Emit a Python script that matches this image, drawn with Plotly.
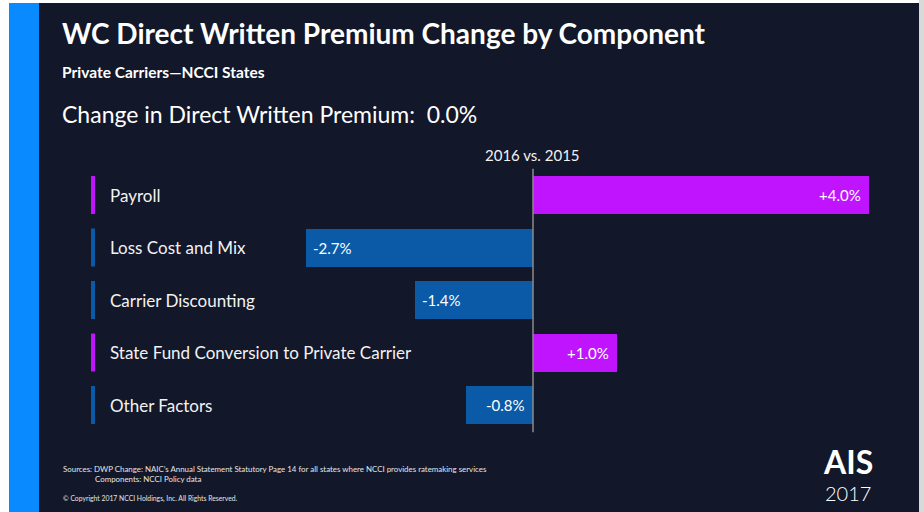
import plotly.graph_objects as go

# --- data -------------------------------------------------------------
components = [
    "Payroll",
    "Loss Cost and Mix",
    "Carrier Discounting",
    "State Fund Conversion to Private Carrier",
    "Other Factors",
]
changes = [4.0, -2.7, -1.4, 1.0, -0.8]
value_labels = ["+4.0%", "-2.7%", "-1.4%", "+1.0%", "-0.8%"]
total_change = "0.0%"
period_label = "2016 vs. 2015"

# --- styling ------------------------------------------------------------
W, H = 924, 512
BG = "#121729"
STRIP = "#0a8aff"
POS = "#c013fe"
NEG = "#0a5aa8"
FONT = "Lato"

PX_PER_UNIT = 84.0      # horizontal scale: pixels per percentage point
ZERO_PX = 533.0         # pixel position of the zero line
ROW0_PX = 195.0         # centre of first row
ROW_PITCH = 52.5        # pixels between rows
BAR_PX = 38.0           # bar thickness in pixels

x_range = [-ZERO_PX / PX_PER_UNIT, (W - ZERO_PX) / PX_PER_UNIT]
y_range = [(H - ROW0_PX) / ROW_PITCH, -ROW0_PX / ROW_PITCH]
bar_w = BAR_PX / ROW_PITCH

def px(xp):
    return xp / W

def py(yp):
    return 1 - yp / H

colors = [POS if v >= 0 else NEG for v in changes]

fig = go.Figure()
fig.add_trace(go.Bar(
    y=components, x=changes, orientation="h",
    marker=dict(color=colors, line=dict(width=0)),
    width=bar_w, hoverinfo="skip", showlegend=False,
))

shapes = [
    # slide background pieces
    dict(type="rect", xref="paper", yref="paper", x0=px(39), x1=px(919),
         y0=py(512), y1=py(3), fillcolor=BG, line=dict(width=0), layer="below"),
    dict(type="rect", xref="paper", yref="paper", x0=px(9), x1=px(39),
         y0=py(512), y1=py(3), fillcolor=STRIP, line=dict(width=0), layer="below"),
    dict(type="rect", xref="paper", yref="paper", x0=px(919), x1=px(924),
         y0=py(512), y1=py(0), fillcolor="#d9d9d9", line=dict(width=0), layer="below"),
    # zero line
    dict(type="line", xref="x", yref="y", x0=0, x1=0, y0=-0.5, y1=4.52,
         line=dict(color="#8c8c8c", width=1.5), layer="above"),
]

annotations = []
for i, (name, v, lab, c) in enumerate(zip(components, changes, value_labels, colors)):
    # small coloured tick next to each category label
    shapes.append(dict(type="rect", xref="paper", yref="y", x0=px(91), x1=px(95),
                       y0=i - bar_w / 2, y1=i + bar_w / 2,
                       fillcolor=c, line=dict(width=0)))
    annotations.append(dict(xref="paper", yref="y", x=px(108), y=i, text=name,
                            xanchor="left", yanchor="middle", showarrow=False,
                            font=dict(family=FONT, size=17, color="#f2f2f2")))
    # value label inside the bar
    if v >= 0:
        ax, anchor, shift = v, "right", -6
    elif abs(v) >= 1.0:
        ax, anchor, shift = v, "left", 5
    else:
        ax, anchor, shift = 0, "right", -6
    annotations.append(dict(xref="x", yref="y", x=ax, y=i, text=lab, xshift=shift,
                            xanchor=anchor, yanchor="middle", showarrow=False,
                            font=dict(family=FONT, size=15, color="#ffffff")))

def txt(x, y, text, size, bold=False, color="#ffffff", anchor="left", family=FONT, pad=1):
    t = f"<b>{text}</b>" if bold else text
    annotations.append(dict(xref="paper", yref="paper", x=px(x), y=py(y), text=t,
                            xanchor=anchor, yanchor="middle", showarrow=False,
                            borderpad=pad,
                            font=dict(family=family, size=size, color=color)))

txt(60, 33, "WC Direct Written Premium Change by Component", 28, bold=True)
txt(60, 72, "Private Carriers\u2014NCCI States", 15.5, bold=True)
txt(60, 114, f"Change in Direct Written Premium:  {total_change}", 23)
txt(532, 155, period_label, 15, color="#f2f2f2", anchor="center")

txt(61, 469, "Sources: DWP Change: NAIC\u2019s Annual Statement Statutory Page 14 for all states where NCCI provides ratemaking services",
    7.9, color="#e6e6e6")
txt(93, 479, "Components: NCCI Policy data", 7.9, color="#e6e6e6")
txt(61, 498, "\u00a9 Copyright 2017 NCCI Holdings, Inc. All Rights Reserved.", 6.8, color="#e6e6e6")

# event logo
txt(848, 461, "AIS", 32, bold=True, anchor="center", pad=0)
txt(848, 492.5, "2017", 20, anchor="center", family="Lato Light, Lato", pad=0)

fig.update_layout(
    width=W, height=H,
    margin=dict(l=0, r=0, t=0, b=0),
    paper_bgcolor="#ffffff",
    plot_bgcolor="rgba(0,0,0,0)",
    xaxis=dict(range=x_range, visible=False, fixedrange=True),
    yaxis=dict(range=y_range, visible=False, fixedrange=True,
               categoryorder="array", categoryarray=components),
    shapes=shapes,
    annotations=annotations,
    bargap=0,
)

fig.write_html("out.html", config={"displayModeBar": False})
